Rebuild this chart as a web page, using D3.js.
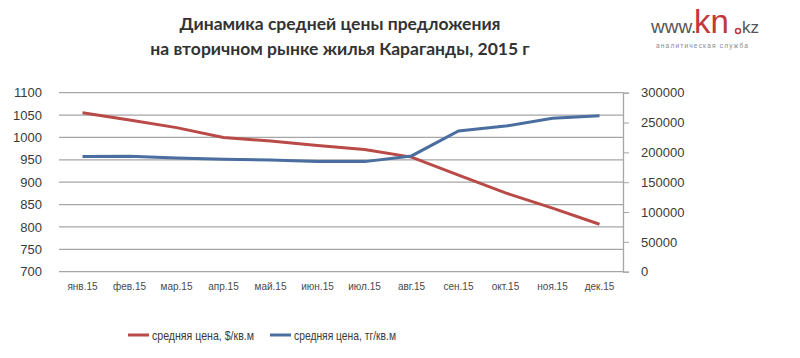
<!DOCTYPE html>
<html><head><meta charset="utf-8">
<script src="https://cdn.jsdelivr.net/npm/d3@7"></script>
<style>body{margin:0;background:#fff}svg{display:block}</style>
</head><body>
<svg id="c" width="800" height="358"></svg>
<script>
const months = ["янв.15","фев.15","мар.15","апр.15","май.15","июн.15","июл.15","авг.15","сен.15","окт.15","ноя.15","дек.15"];
const usdPrice = [1055, 1039, 1022, 1000, 992, 982, 973, 956, 916, 876, 842, 806];
const kztPrice = [193000, 193500, 190500, 188500, 187000, 184500, 184500, 194000, 236000, 244000, 257000, 261500];
const leftTicks = [700, 750, 800, 850, 900, 950, 1000, 1050, 1100];
const rightTicks = [0, 50000, 100000, 150000, 200000, 250000, 300000];
const titleLines = ["Динамика средней цены предложения", "на вторичном рынке жилья Караганды, 2015 г"];
const seriesNames = ["средняя цена, $/кв.м", "средняя цена, тг/кв.м"];

const svg = d3.select("#c");
const L = 59, R = 623, T = 92.7, B = 271.7;
const x = d3.scaleBand().domain(months).range([L, R]);
const yL = d3.scaleLinear().domain([700, 1100]).range([B, T]);
const yR = d3.scaleLinear().domain([0, 300000]).range([B, T]);
const red = "#b94a48", blue = "#4a6e9f";
const font = "'Liberation Sans', Arial, sans-serif";

// gridlines
svg.append("g").selectAll("line").data(leftTicks).join("line")
  .attr("x1", L).attr("x2", R).attr("y1", d => yL(d)).attr("y2", d => yL(d))
  .attr("stroke", "#a6a6a6").attr("stroke-width", 1.3);

// left axis labels
const gl = svg.append("g").attr("transform", `translate(${L},0)`)
  .call(d3.axisLeft(yL).tickValues(leftTicks).tickSize(0).tickPadding(17).tickFormat(d3.format("d")));
gl.select(".domain").remove();
gl.selectAll("text").attr("font-family", font).attr("font-size", 13).attr("fill", "#3a3a3a");

// right axis
const gr = svg.append("g").attr("transform", `translate(${R},0)`)
  .call(d3.axisRight(yR).tickValues(rightTicks).tickSize(6).tickPadding(12).tickFormat(d3.format("d")));
gr.select(".domain").attr("stroke", "#a6a6a6").attr("stroke-width", 1.3);
gr.selectAll(".tick line").attr("stroke", "#a6a6a6");
gr.selectAll("text").attr("font-family", font).attr("font-size", 13).attr("fill", "#3a3a3a");

// x axis labels
const gx = svg.append("g").attr("transform", `translate(0,${B})`)
  .call(d3.axisBottom(x).tickSize(0).tickPadding(11));
gx.select(".domain").remove();
gx.selectAll("text").attr("font-family", font).attr("font-size", 10).attr("fill", "#4a4a4a");

// lines
const cx = d => x(d) + x.bandwidth() / 2;
svg.append("path").datum(usdPrice)
  .attr("d", d3.line().x((d, i) => cx(months[i])).y(d => yL(d)))
  .attr("fill", "none").attr("stroke", red).attr("stroke-width", 3);
svg.append("path").datum(kztPrice)
  .attr("d", d3.line().x((d, i) => cx(months[i])).y(d => yR(d)))
  .attr("fill", "none").attr("stroke", blue).attr("stroke-width", 3);

// title
svg.append("g").selectAll("text").data(titleLines).join("text")
  .attr("x", 340).attr("y", (d, i) => 30 + i * 25).attr("text-anchor", "middle")
  .attr("font-family", "Lato, 'Open Sans', sans-serif").attr("font-weight", "bold").attr("font-size", 17.5)
  .attr("fill", "#333").text(d => d);

// legend
const lg = svg.append("g");
const legX = [128, 270];
seriesNames.forEach((n, i) => {
  lg.append("line").attr("x1", legX[i]).attr("x2", legX[i] + 21).attr("y1", 335).attr("y2", 335)
    .attr("stroke", i ? blue : red).attr("stroke-width", 3);
  lg.append("text").attr("x", legX[i] + 24).attr("y", 339.5)
    .attr("font-family", font).attr("font-size", 13)
    .attr("textLength", 102).attr("lengthAdjust", "spacingAndGlyphs")
    .attr("fill", "#3a3a3a").text(n);
});

// logo
const logo = svg.append("g");
logo.append("text").attr("x", 651).attr("y", 33).attr("font-family", font).attr("font-size", 19)
  .attr("fill", "#555").text("www.");
logo.append("text").attr("x", 694).attr("y", 33).attr("font-family", font).attr("font-size", 33)
  .attr("fill", "#c0393b").text("kn");
logo.append("circle").attr("cx", 738).attr("cy", 31).attr("r", 2.5).attr("fill", "none").attr("stroke", "#c0393b").attr("stroke-width", 1.5);
logo.append("text").attr("x", 742).attr("y", 33).attr("font-family", font).attr("font-size", 17)
  .attr("fill", "#555").text("kz");
logo.append("text").attr("x", 656).attr("y", 48).attr("font-family", font).attr("font-size", 6.5)
  .attr("letter-spacing", 1.2).attr("fill", "#888").text("аналитическая служба");
</script>
</body></html>
